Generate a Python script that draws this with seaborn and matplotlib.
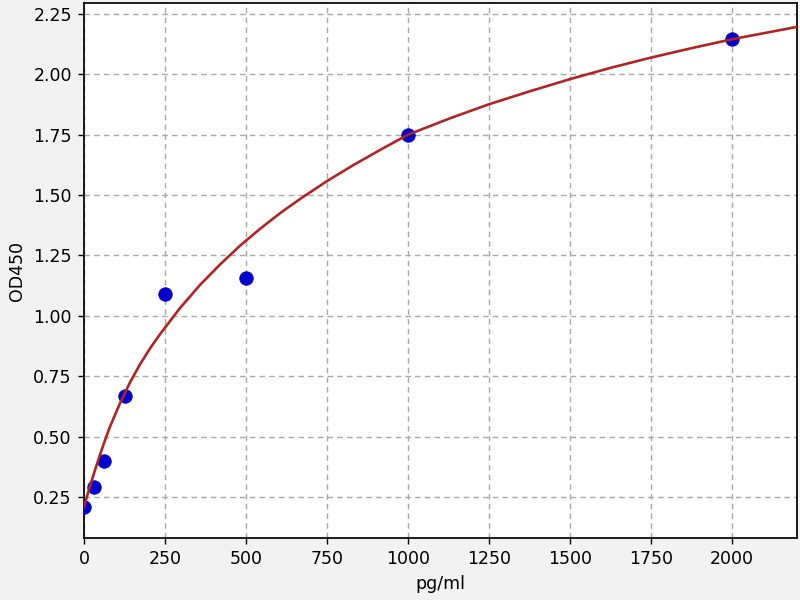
#!/usr/bin/env python3
"""Standard curve: OD450 vs concentration (pg/ml) with fitted curve."""

import pandas as pd
import seaborn as sns
import matplotlib
matplotlib.use('Agg')
import matplotlib.pyplot as plt

# measured standards
conc = [0, 31.25, 62.5, 125, 250, 500, 1000, 2000]
od450 = [0.21, 0.29, 0.40, 0.67, 1.09, 1.155, 1.75, 2.145]

# fitted curve
curve_x = [0, 18, 34, 49, 65, 80, 111, 142, 173, 204, 235, 296, 358, 420,
           481, 543, 605, 667, 750, 831, 914, 1000, 1130, 1250, 1377, 1500,
           1629, 1750, 1875, 2000, 2200]
curve_y = [0.21, 0.293, 0.362, 0.424, 0.486, 0.541, 0.638, 0.725, 0.800,
           0.866, 0.925, 1.032, 1.128, 1.213, 1.290, 1.360, 1.425, 1.484,
           1.558, 1.624, 1.687, 1.75, 1.818, 1.876, 1.93, 1.98, 2.028,
           2.069, 2.108, 2.145, 2.196]

x_ticks = [0, 250, 500, 750, 1000, 1250, 1500, 1750, 2000]
y_ticks = [0.25, 0.50, 0.75, 1.00, 1.25, 1.50, 1.75, 2.00, 2.25]

pts = pd.DataFrame({'conc': conc, 'od': od450})
fit = pd.DataFrame({'conc': curve_x, 'od': curve_y})

fig = plt.figure(figsize=(6.4, 4.8), dpi=125, facecolor='#f2f2f2')
ax = fig.add_axes([0.105, 0.103, 0.891, 0.892])
ax.set_facecolor('white')

sns.scatterplot(data=pts, x='conc', y='od', ax=ax, color='#0000cc',
                s=60, edgecolor='#0000cc', linewidth=0.5, zorder=3)
sns.lineplot(data=fit, x='conc', y='od', ax=ax, color='#b22222',
             linewidth=1.5, zorder=4)

ax.set_xlim(0, 2200)
ax.set_ylim(0.08, 2.295)
ax.set_xticks(x_ticks)
ax.set_yticks(y_ticks)
ax.set_yticklabels([f'{v:.2f}' for v in y_ticks])
ax.grid(True, linestyle=(0, (4, 3)), color='#a8a8a8', linewidth=0.8)
ax.set_axisbelow(True)
for s in ax.spines.values():
    s.set_color('black')
    s.set_linewidth(1.0)
ax.set_xlabel('pg/ml')
ax.set_ylabel('OD450')

fig.savefig('out.png', dpi=125, facecolor=fig.get_facecolor())
